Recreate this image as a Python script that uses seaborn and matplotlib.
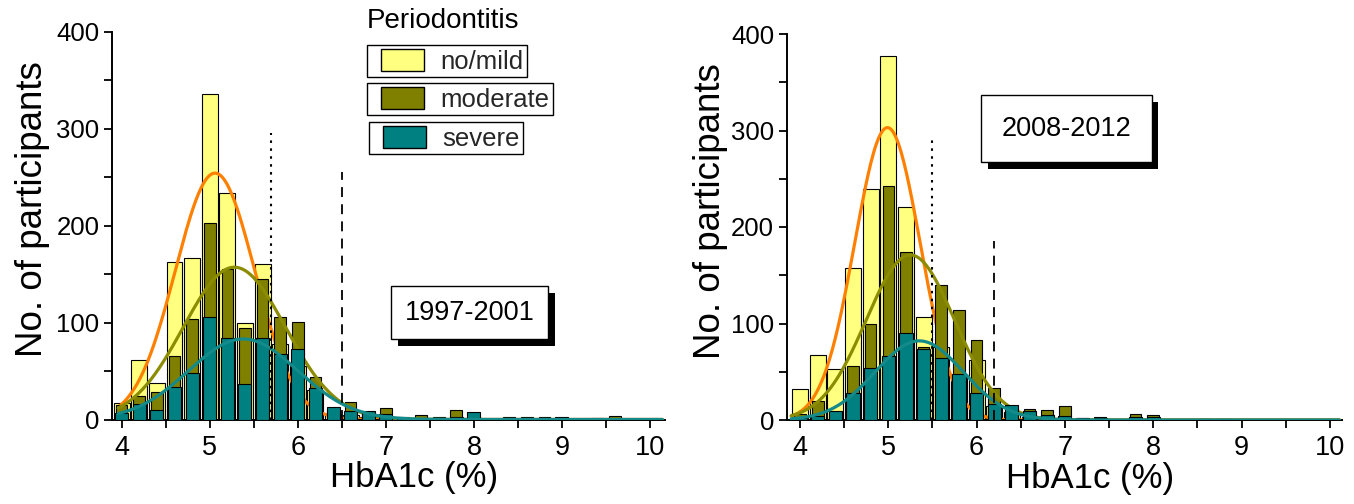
import numpy as np
import pandas as pd
import matplotlib
matplotlib.use("Agg")
import matplotlib.pyplot as plt
import matplotlib.patheffects as pe
from matplotlib.patches import Patch, Rectangle
from matplotlib.legend_handler import HandlerPatch
from matplotlib.ticker import MultipleLocator
import seaborn as sns

# ---------------- data ----------------
series_names = ["no/mild", "moderate", "severe"]

left_centers = [4.0, 4.2, 4.4, 4.6, 4.8, 5.0, 5.2, 5.4, 5.6, 5.8, 6.0, 6.2, 6.4, 6.6,
                6.8, 7.0, 7.2, 7.4, 7.6, 7.8, 8.0, 8.2, 8.4, 8.6, 8.8, 9.0, 9.2, 9.4, 9.6]
left_nomild = [17, 61, 38, 162, 166, 336, 234, 100, 160, 78, 55, 30, 6, 5,
               3, 2, 1, 0, 0, 0, 0, 0, 0, 0, 0, 0, 0, 0, 0]
left_moderate = [15, 24, 28, 65, 104, 203, 155, 94, 145, 106, 101, 44, 10, 18,
                 7, 12, 3, 5, 3, 10, 4, 0, 3, 3, 3, 2, 0, 2, 4]
left_severe = [7, 16, 10, 33, 48, 106, 84, 37, 84, 68, 73, 32, 13, 9,
               9, 6, 2, 2, 2, 3, 8, 0, 2, 2, 2, 3, 0, 1, 1]

right_centers = [4.0, 4.2, 4.4, 4.6, 4.8, 5.0, 5.2, 5.4, 5.6, 5.8, 6.0, 6.2, 6.4, 6.6,
                 6.8, 7.0, 7.2, 7.4, 7.6, 7.8, 8.0, 8.2, 8.4, 8.6, 8.8]
right_nomild = [32, 67, 53, 157, 239, 377, 221, 107, 76, 45, 62, 15, 8, 3,
                2, 1, 0, 0, 0, 0, 0, 0, 0, 0, 0]
right_moderate = [6, 20, 8, 56, 99, 242, 174, 76, 140, 114, 83, 33, 12, 11,
                  10, 15, 2, 3, 0, 6, 5, 0, 0, 1, 1]
right_severe = [2, 4, 9, 28, 54, 66, 90, 74, 64, 48, 28, 17, 16, 9,
                5, 4, 2, 2, 0, 3, 3, 0, 0, 1, 1]

# Gaussian fit parameters (mean, sd, peak height) per series
left_fit_mean = [5.06, 5.28, 5.38]
left_fit_sd = [0.45, 0.58, 0.62]
left_fit_peak = [254, 157, 83]
right_fit_mean = [4.99, 5.25, 5.35]
right_fit_sd = [0.37, 0.50, 0.50]
right_fit_peak = [303, 171, 82]

# reference lines: (x, top)
left_dotted = (5.7, 295)
left_dashed = (6.5, 255)
right_dotted = (5.5, 292)
right_dashed = (6.2, 186)

left_period = "1997-2001"
right_period = "2008-2012"
x_label = "HbA1c (%)"
y_label = "No. of participants"
legend_title = "Periodontitis"

# ---------------- style ----------------
sns.set_theme(style="ticks")
plt.rcParams["font.family"] = ["Liberation Sans", "DejaVu Sans"]

bar_colors = ["#FFFF80", "#808000", "#008080"]
line_colors = ["#FF8000", "#8C8C00", "#148A8A"]
shrinks = [0.9, 0.66, 0.74]

W, H = 1354, 504
fig = plt.figure(figsize=(W / 100, H / 100), dpi=100)
fig.patch.set_facecolor("white")

ax_l = fig.add_axes([112 / W, 1 - 419.5 / H, (665 - 112) / W, (419.5 - 31.5) / H])
ax_r = fig.add_axes([786.7 / W, 1 - 420 / H, (1342 - 786.7) / W, (420 - 34) / H])


def draw_panel(ax, centers, counts_list, means, sds, peaks, dotted, dashed, xlim, curve_start):
    centers = np.asarray(centers, dtype=float)
    lo = float(centers[0] - 0.1)
    hi = float(centers[-1] + 0.1)
    grid = np.linspace(curve_start, xlim[1] - 0.03, 400)
    z = 1
    for counts, bc, lc, shr, m, s, p in zip(counts_list, bar_colors, line_colors,
                                           shrinks, means, sds, peaks):
        df = pd.DataFrame({"hba1c": centers, "n": np.asarray(counts, dtype=float)})
        n_before = len(ax.patches)
        sns.histplot(data=df, x="hba1c", weights="n", binwidth=0.2,
                     binrange=(lo, hi), shrink=shr,
                     color=bc, alpha=1, edgecolor="black", linewidth=0.8, ax=ax)
        for patch in ax.patches[n_before:]:
            patch.set_zorder(z)
            patch.set_facecolor(bc)
        z += 1
        curve = p * np.exp(-((grid - m) ** 2) / (2 * s ** 2))
        n_lines = len(ax.lines)
        sns.lineplot(x=grid, y=curve, color=lc, linewidth=2.3, ax=ax)
        for ln in ax.lines[n_lines:]:
            ln.set_zorder(z)
        z += 1
    ax.vlines(dotted[0], 0, dotted[1], colors="black", linewidth=1.5,
              linestyles=(0, (1.2, 2.6)), zorder=10)
    ax.vlines(dashed[0], 0, dashed[1], colors="black", linewidth=1.3,
              linestyles=(0, (5.5, 4)), zorder=10)

    ax.set_xlim(*xlim)
    ax.set_ylim(0, 400)
    ax.xaxis.set_major_locator(MultipleLocator(1))
    ax.xaxis.set_minor_locator(MultipleLocator(0.5))
    ax.yaxis.set_major_locator(MultipleLocator(100))
    ax.yaxis.set_minor_locator(MultipleLocator(50))
    ax.tick_params(axis="both", which="both", direction="out", length=6,
                   width=1.3, color="black", labelcolor="black")
    ax.tick_params(axis="x", pad=5, labelsize=19.5)
    ax.tick_params(axis="y", pad=3, labelsize=18.5)
    for side in ["top", "right"]:
        ax.spines[side].set_visible(False)
    for side in ["left", "bottom"]:
        ax.spines[side].set_color("black")
        ax.spines[side].set_linewidth(1.4)
    ax.set_facecolor("white")
    ax.set_xlabel(x_label, fontsize=25, color="black")
    ax.set_ylabel(y_label, fontsize=26.5, color="black")


draw_panel(ax_l, left_centers, [left_nomild, left_moderate, left_severe],
           left_fit_mean, left_fit_sd, left_fit_peak, left_dotted, left_dashed,
           (3.89, 10.17), 3.96)
draw_panel(ax_r, right_centers, [right_nomild, right_moderate, right_severe],
           right_fit_mean, right_fit_sd, right_fit_peak, right_dotted, right_dashed,
           (3.849, 10.138), 3.90)

ax_l.xaxis.set_label_coords(0.547, -0.108)
ax_l.yaxis.set_label_coords(-0.112, 0.5425)
ax_r.xaxis.set_label_coords(0.546, -0.108)
ax_r.yaxis.set_label_coords(-0.105, 0.5425)


def shadow_box(ax, x, y, text, pad):
    t = ax.text(x, y, text, ha="center", va="center", fontsize=19.5, color="black",
                zorder=21,
                bbox=dict(boxstyle=f"square,pad={pad}", facecolor="white",
                          edgecolor="black", linewidth=1))
    t.get_bbox_patch().set_path_effects([
        pe.SimplePatchShadow(offset=(4.7, -4.7), shadow_rgbFace="black", alpha=1.0),
        pe.Normal()])


shadow_box(ax_l, 7.955, 110, left_period, 0.5)
shadow_box(ax_r, 7.018, 302, right_period, 0.76)

# legend: title plus three separate framed entries
fig.text(367 / W, 1 - 21 / H, legend_title, fontsize=20, ha="left", va="center",
         color="black")


def swatch(legend, orig_handle, xdescent, ydescent, width, height, fontsize):
    off = 0.4 * fontsize
    return Rectangle((-xdescent + off, -ydescent), width - off, height)


legend_tops = [45, 83, 122]
legend_lefts = [367, 367, 369]
for i, (name, col) in enumerate(zip(series_names, bar_colors)):
    handle = Patch(facecolor=col, edgecolor="black", linewidth=1)
    leg = ax_l.legend(handles=[handle], labels=[name], loc="upper left",
                      bbox_to_anchor=(legend_lefts[i] / W, 1 - legend_tops[i] / H),
                      bbox_transform=fig.transFigure, borderaxespad=0,
                      frameon=True, fancybox=False, shadow=False, fontsize=18.5,
                      handlelength=2.08, handleheight=0.97, handletextpad=0.62,
                      borderpad=0.14,
                      handler_map={Patch: HandlerPatch(patch_func=swatch)})
    leg.get_frame().set_edgecolor("black")
    leg.get_frame().set_linewidth(1)
    leg.get_frame().set_facecolor("white")
    leg.get_frame().set_alpha(1)
    leg.set_zorder(30)
    if i < 2:
        ax_l.add_artist(leg)

fig.savefig("out.png", dpi=100, facecolor="white")
